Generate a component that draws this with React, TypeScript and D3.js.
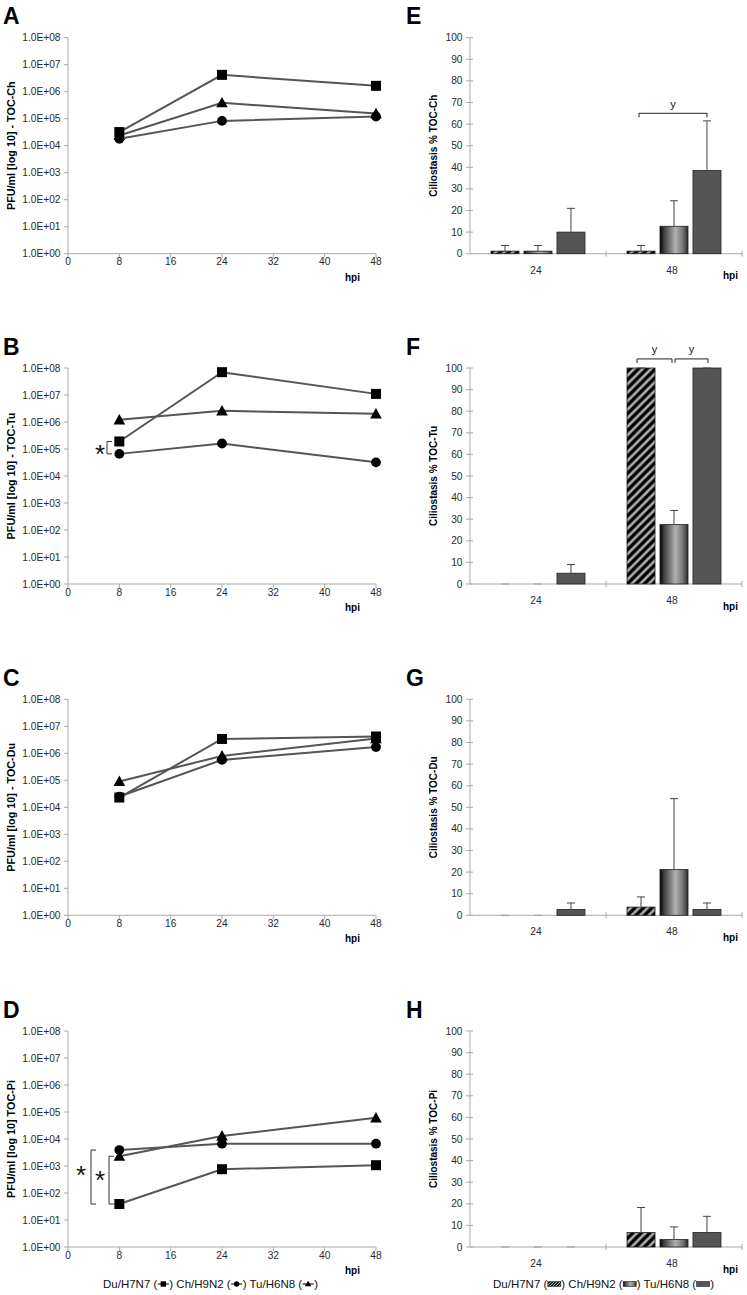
import React, { useEffect, useRef } from 'react';
import * as d3 from 'd3';

// ---------- DATA ----------
const HOURS = [8, 24, 48];
const X_TICKS = [0, 8, 16, 24, 32, 40, 48];
const LOG_TICKS = [1, 10, 100, 1e3, 1e4, 1e5, 1e6, 1e7, 1e8];
const LOG_TICK_LABELS = ['1.0E+00', '1.0E+01', '1.0E+02', '1.0E+03', '1.0E+04', '1.0E+05', '1.0E+06', '1.0E+07', '1.0E+08'];
const SERIES = ['Du/H7N7', 'Ch/H9N2', 'Tu/H6N8'];
const LEFT_LETTERS = ['A', 'B', 'C', 'D'];
const RIGHT_LETTERS = ['E', 'F', 'G', 'H'];
const LEFT_YLABELS = ['PFU/ml [log 10] - TOC-Ch', 'PFU/ml [log 10] - TOC-Tu', 'PFU/ml [log 10] - TOC-Du', 'PFU/ml [log 10] TOC-Pi'];
const RIGHT_YLABELS = ['Ciliostasis % TOC-Ch', 'Ciliostasis % TOC-Tu', 'Ciliostasis % TOC-Du', 'Ciliostasis % TOC-Pi'];

// virus titers (PFU/ml) at 8, 24, 48 hpi, per panel A..D
const TITER_DU = [
  [3.2e4, 4.2e6, 1.65e6],
  [1.9e5, 7.0e7, 1.1e7],
  [2.3e4, 3.4e6, 4.2e6],
  [39, 760, 1070],
];
const TITER_CH = [
  [1.8e4, 8.3e4, 1.2e5],
  [6.6e4, 1.6e5, 3.2e4],
  [2.5e4, 5.7e5, 1.7e6],
  [3900, 6700, 6700],
];
const TITER_TU = [
  [2.4e4, 3.9e5, 1.55e5],
  [1.2e6, 2.6e6, 2.0e6],
  [9.1e4, 8.0e5, 3.5e6],
  [2300, 1.3e4, 6.1e4],
];

// ciliostasis (%) at 24, 48 hpi, per panel E..H
const GROUPS = ['24', '48'];
const CILIO_TICKS = [0, 10, 20, 30, 40, 50, 60, 70, 80, 90, 100];
const CILIO_DU = [[1.2, 1.2], [0, 100], [0, 3.8], [0, 6.7]];
const CILIO_DU_SD = [[2.6, 2.6], [0, 0], [0, 4.7], [0, 11.6]];
const CILIO_CH = [[1.2, 12.7], [0, 27.5], [0, 21.2], [0, 3.5]];
const CILIO_CH_SD = [[2.6, 11.8], [0, 6.5], [0, 32.8], [0, 5.8]];
const CILIO_TU = [[10, 38.5], [5, 100], [2.7, 2.7], [0, 6.7]];
const CILIO_TU_SD = [[11, 23], [4, 0], [3, 3], [0, 7.5]];

// ---------- LAYOUT ----------
const W = 747;
const H = 1295;
const ROW_TOPS = [37.7, 368, 699.3, 1031];
const PLOT_H = 216;
const FONT = '"Liberation Sans", Arial, Helvetica, sans-serif';
const AXIS_COLOR = '#a9a9a9';
const LINE_COLOR = '#555';
const TEXT_COLOR = '#2a2a2a';

export default function App() {
  const ref = useRef<SVGSVGElement>(null);

  useEffect(() => {
    const svg = d3.select(ref.current);
    svg.selectAll('*').remove();

    const defs = svg.append('defs');
    const P = 8.5;
    const hatch = defs.append('pattern').attr('id', 'hatch').attr('patternUnits', 'userSpaceOnUse')
      .attr('width', P).attr('height', P);
    hatch.append('rect').attr('width', P).attr('height', P).attr('fill', '#000');
    hatch.append('path').attr('d', `M${-P / 4},${P / 4} L${P / 4},${-P / 4} M0,${P} L${P},0 M${P * 0.75},${P * 1.25} L${P * 1.25},${P * 0.75}`)
      .attr('stroke', '#adadad').attr('stroke-width', 2.6);
    const hatchS = defs.append('pattern').attr('id', 'hatchS').attr('patternUnits', 'userSpaceOnUse')
      .attr('width', 3).attr('height', 3);
    hatchS.append('rect').attr('width', 3).attr('height', 3).attr('fill', '#222');
    hatchS.append('path').attr('d', 'M-0.75,0.75 L0.75,-0.75 M0,3 L3,0 M2.25,3.75 L3.75,2.25')
      .attr('stroke', '#bbb').attr('stroke-width', 0.9);
    const grad = defs.append('linearGradient').attr('id', 'cyl').attr('x1', 0).attr('x2', 1).attr('y1', 0).attr('y2', 0);
    [[0, '#050505'], [0.15, '#404040'], [0.55, '#b0b0b0'], [0.8, '#7a7a7a'], [1, '#2a2a2a']].forEach(([o, c]) =>
      grad.append('stop').attr('offset', o as number).attr('stop-color', c as string));
    const FILLS = ['url(#hatch)', 'url(#cyl)', '#555555'];

    const txt = (g: any, x: number, y: number, s: string, size: number, opts: any = {}) =>
      g.append('text').attr('x', x).attr('y', y).text(s)
        .attr('font-family', FONT).attr('font-size', size)
        .attr('fill', opts.fill || TEXT_COLOR)
        .attr('font-weight', opts.bold ? 'bold' : 'normal')
        .attr('text-anchor', opts.anchor || 'start');

    // ---------- LEFT PANELS ----------
    LEFT_LETTERS.forEach((letter, p) => {
      const top = ROW_TOPS[p];
      const bottom = top + PLOT_H;
      const g = svg.append('g');
      const x = d3.scaleLinear().domain([0, 48]).range([68, 376]);
      const y = d3.scaleLog().domain([1, 1e8]).range([bottom, top]);

      txt(g, 3, top - 13.5, letter, 23, { bold: true, fill: '#000' });

      g.append('line').attr('x1', 68).attr('x2', 68).attr('y1', top).attr('y2', bottom).attr('stroke', AXIS_COLOR);
      g.append('line').attr('x1', 68).attr('x2', 376).attr('y1', bottom).attr('y2', bottom).attr('stroke', AXIS_COLOR);
      LOG_TICKS.forEach((v, i) => {
        g.append('line').attr('x1', 64).attr('x2', 68).attr('y1', y(v)).attr('y2', y(v)).attr('stroke', AXIS_COLOR);
        txt(g, 60.5, y(v) + 3.5, LOG_TICK_LABELS[i], 10.2, { anchor: 'end' });
      });
      X_TICKS.forEach((v) => {
        g.append('line').attr('x1', x(v)).attr('x2', x(v)).attr('y1', bottom).attr('y2', bottom + 4).attr('stroke', AXIS_COLOR);
        txt(g, x(v), bottom + 11.5, String(v), 10.2, { anchor: 'middle' });
      });
      txt(g, 345, bottom + 27, 'hpi', 10, { bold: true, fill: '#000' });
      txt(g, 0, 0, LEFT_YLABELS[p], 10.8, { bold: true, anchor: 'middle', fill: '#000' })
        .attr('transform', `translate(14.5,${(top + bottom) / 2}) rotate(-90)`);

      const line = d3.line<number>().x((_, i) => x(HOURS[i])).y((d) => y(d));
      const data = [TITER_DU[p], TITER_CH[p], TITER_TU[p]];
      data.forEach((d) => {
        g.append('path').attr('d', line(d)).attr('fill', 'none').attr('stroke', LINE_COLOR).attr('stroke-width', 2);
      });
      TITER_CH[p].forEach((v, i) =>
        g.append('circle').attr('cx', x(HOURS[i])).attr('cy', y(v)).attr('r', 4.9).attr('fill', '#000'));
      TITER_TU[p].forEach((v, i) =>
        g.append('path').attr('transform', `translate(${x(HOURS[i])},${y(v)})`)
          .attr('d', 'M0,-5.8 L5.8,4.6 L-5.8,4.6 Z').attr('fill', '#000'));
      TITER_DU[p].forEach((v, i) =>
        g.append('rect').attr('x', x(HOURS[i]) - 5).attr('y', y(v) - 5).attr('width', 10).attr('height', 10).attr('fill', '#000'));

      const bracket = (bx: number, v1: number, v2: number, sx: number, sy: number) => {
        const y1 = y(v1), y2 = y(v2);
        g.append('path').attr('d', `M${bx + 5},${y1} H${bx} V${y2} H${bx + 5}`)
          .attr('fill', 'none').attr('stroke', '#333').attr('stroke-width', 1);
        txt(g, sx, sy + 15, '*', 26, { anchor: 'middle', fill: '#111' });
      };
      if (p === 1) {
        bracket(107, TITER_DU[1][0], TITER_CH[1][0], 100, y(TITER_DU[1][0]) + 7);
      }
      if (p === 3) {
        bracket(91, TITER_CH[3][0], TITER_DU[3][0], 81, 1169);
        bracket(109, TITER_TU[3][0], TITER_DU[3][0], 100, 1174);
      }
    });

    // ---------- RIGHT PANELS ----------
    RIGHT_LETTERS.forEach((letter, p) => {
      const top = ROW_TOPS[p];
      const bottom = top + PLOT_H;
      const g = svg.append('g');
      const x0 = d3.scaleBand().domain(GROUPS).range([470, 742]);
      const x1 = d3.scaleBand().domain(SERIES).range([21, 115]).paddingInner(0.15);
      const y = d3.scaleLinear().domain([0, 100]).range([bottom, top]);

      txt(g, 406, top - 13.5, letter, 23, { bold: true, fill: '#000' });

      g.append('line').attr('x1', 470).attr('x2', 470).attr('y1', top).attr('y2', bottom).attr('stroke', AXIS_COLOR);
      g.append('line').attr('x1', 470).attr('x2', 742).attr('y1', bottom).attr('y2', bottom).attr('stroke', AXIS_COLOR);
      CILIO_TICKS.forEach((v) => {
        g.append('line').attr('x1', 466).attr('x2', 473).attr('y1', y(v)).attr('y2', y(v)).attr('stroke', AXIS_COLOR);
        txt(g, 462.5, y(v) + 3.5, String(v), 10.2, { anchor: 'end' });
      });
      [x0('48')!, 742].forEach((tx) =>
        g.append('line').attr('x1', tx).attr('x2', tx).attr('y1', bottom - 3).attr('y2', bottom + 3).attr('stroke', AXIS_COLOR));
      GROUPS.forEach((gr) => txt(g, x0(gr)! + x0.bandwidth() / 2 - 2, bottom + 20, gr, 10.2, { anchor: 'middle' }));
      txt(g, 723, bottom + 25.5, 'hpi', 10, { bold: true, fill: '#000' });
      txt(g, 0, 0, RIGHT_YLABELS[p], 10, { bold: true, anchor: 'middle', fill: '#000' })
        .attr('transform', `translate(437,${(top + bottom) / 2}) rotate(-90)`);

      const vals = [CILIO_DU[p], CILIO_CH[p], CILIO_TU[p]];
      const sds = [CILIO_DU_SD[p], CILIO_CH_SD[p], CILIO_TU_SD[p]];
      const cx = (gi: number, si: number) => x0(GROUPS[gi])! + x1(SERIES[si])! + x1.bandwidth() / 2;
      GROUPS.forEach((gr, gi) => {
        SERIES.forEach((s, si) => {
          const v = vals[si][gi];
          const bx = x0(gr)! + x1(s)!;
          if (v > 0) {
            g.append('rect').attr('x', bx).attr('y', y(v)).attr('width', x1.bandwidth()).attr('height', bottom - y(v))
              .attr('fill', FILLS[si]).attr('stroke', '#222').attr('stroke-width', 0.8);
          }
          const c = bx + x1.bandwidth() / 2;
          const et = y(v + sds[si][gi]);
          if (sds[si][gi] > 0) {
            g.append('line').attr('x1', c).attr('x2', c).attr('y1', y(v)).attr('y2', et).attr('stroke', '#444');
          }
          g.append('line').attr('x1', c - 4).attr('x2', c + 4).attr('y1', et).attr('y2', et)
            .attr('stroke', v === 0 ? '#999' : '#444');
        });
      });

      const ybracket = (xa: number, xb: number, v: number) => {
        const yy = y(v);
        g.append('path').attr('d', `M${xa},${yy + 4} V${yy} H${xb} V${yy + 4}`)
          .attr('fill', 'none').attr('stroke', '#222').attr('stroke-width', 1);
        txt(g, (xa + xb) / 2, yy - 5.5, 'y', 11, { anchor: 'middle', fill: '#111' });
      };
      if (p === 0) ybracket(cx(1, 0) - 2, cx(1, 2), 65);
      if (p === 1) {
        ybracket(cx(1, 0) - 4, cx(1, 1) - 2, 104.2);
        ybracket(cx(1, 1) + 1, cx(1, 2) + 1, 104.2);
      }
    });

    // ---------- LEGENDS ----------
    const LEG_SIZE = 11.5;
    const legendRow = (startX: number, baseY: number, symW: number, drawSym: (g: any, x: number, y: number, i: number) => void) => {
      const g = svg.append('g');
      let cur = startX;
      SERIES.forEach((s, i) => {
        const t = txt(g, cur, baseY, (i === 0 ? '' : ') ') + s + ' (', LEG_SIZE, { fill: '#111' });
        cur += (t.node() as SVGTextElement).getComputedTextLength();
        drawSym(g, cur, baseY - 4, i);
        cur += symW;
      });
      txt(g, cur, baseY, ')', LEG_SIZE, { fill: '#111' });
    };
    legendRow(103, 1288, 12, (g, x, yc, i) => {
      g.append('line').attr('x1', x + 0.5).attr('x2', x + 11.5).attr('y1', yc).attr('y2', yc).attr('stroke', '#222').attr('stroke-width', 1.2);
      const cx = x + 6;
      if (i === 0) g.append('rect').attr('x', cx - 2.7).attr('y', yc - 2.7).attr('width', 5.4).attr('height', 5.4).attr('fill', '#000');
      if (i === 1) g.append('circle').attr('cx', cx).attr('cy', yc).attr('r', 2.7).attr('fill', '#000');
      if (i === 2) g.append('path').attr('d', `M${cx},${yc - 3.2} L${cx + 3.3},${yc + 2.2} L${cx - 3.3},${yc + 2.2} Z`).attr('fill', '#000');
    });
    legendRow(493, 1288, 14, (g, x, yc, i) => {
      g.append('rect').attr('x', x + 0.5).attr('y', yc - 2.5).attr('width', 13).attr('height', 5)
        .attr('fill', i === 0 ? 'url(#hatchS)' : FILLS[i]).attr('stroke', '#222').attr('stroke-width', 0.6);
    });
  }, []);

  return (
    <svg ref={ref} width={W} height={H} viewBox={`0 0 ${W} ${H}`}
      style={{ position: 'absolute', left: 0, top: 0, background: '#fff' }} />
  );
}
